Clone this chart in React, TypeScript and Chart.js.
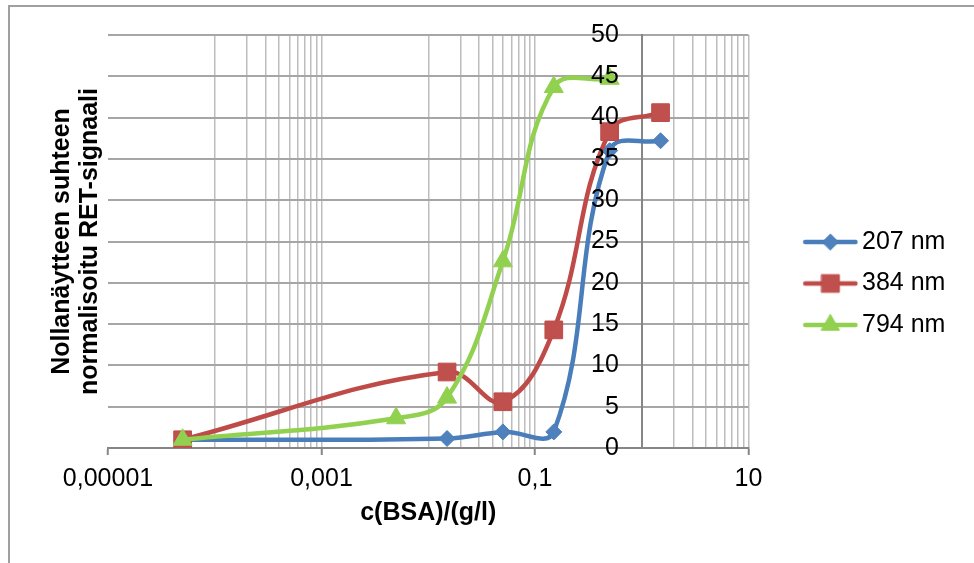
import React, { useEffect, useRef } from 'react';
import { Chart, registerables } from 'chart.js';

Chart.register(...registerables);

// ---- data ----
const seriesLabels = ['207 nm', '384 nm', '794 nm'];
const conc207 = [0.00005, 0.015, 0.05, 0.15, 0.5, 1.5];
const signal207 = [1.0, 1.15, 1.95, 1.95, 36.0, 37.2];
const conc384 = [0.00005, 0.015, 0.05, 0.15, 0.5, 1.5];
const signal384 = [1.0, 9.2, 5.6, 14.3, 38.3, 40.6];
const conc794 = [0.00005, 0.005, 0.015, 0.05, 0.15, 0.5];
const signal794 = [1.0, 3.6, 6.1, 22.6, 43.7, 44.7];

const xMajorTicks = [0.00001, 0.001, 0.1, 10];
const xMajorLabels = ['0,00001', '0,001', '0,1', '10'];
const xMinorTicks = [
  0.0001, 0.0002, 0.0003, 0.0004, 0.0005, 0.0006, 0.0007, 0.0008, 0.0009,
  0.01, 0.02, 0.03, 0.04, 0.05, 0.06, 0.07, 0.08, 0.09,
  1, 2, 3, 4, 5, 6, 7, 8, 9,
];
const yMin = 0;
const yMax = 50;
const yStep = 5;
const yAxisCrossesAt = 1; // value axis crosses the log axis at x = 1
const yLabelAnchorAt = 0.61; // labels sit a little left of the crossing

const xTitle = 'c(BSA)/(g/l)';
const yTitle = ['Nollanäytteen suhteen', 'normalisoitu RET-signaali'];

// ---- styles ----
const FONT = "'Liberation Sans', Arial, sans-serif";
const lineColors = ['#4A7EBB', '#BE4B48', '#92D050'];
const fillColors = ['#4F81BD', '#C0504D', '#92D050'];
const pointStyles = ['rectRot', 'rect', 'triangle'];
const pointRadii = [8, 12.5, 11];

const sameVal = (a: number, b: number) => Math.abs(a - b) / Math.abs(b) < 1e-6;

function toPoints(xs: number[], ys: number[]) {
  return xs.map((x, i) => ({ x, y: ys[i] }));
}

function makeLegendSymbol(style: string, line: string, fill: string, r: number) {
  const W = 102;
  const H = 30;
  const c = document.createElement('canvas');
  c.width = W;
  c.height = H;
  const g = c.getContext('2d')!;
  const cy = H / 2;
  const x0 = 46.75;
  const x1 = 101.75 - 2.5;
  g.strokeStyle = line;
  g.lineWidth = 4.5;
  g.lineCap = 'round';
  g.beginPath();
  g.moveTo(x0 + 2.25, cy);
  g.lineTo(x1, cy);
  g.stroke();
  const cx = (x0 + 101.75) / 2;
  g.fillStyle = fill;
  g.strokeStyle = line;
  g.lineWidth = 1;
  g.beginPath();
  if (style === 'rectRot') {
    g.moveTo(cx - r, cy);
    g.lineTo(cx, cy - r);
    g.lineTo(cx + r, cy);
    g.lineTo(cx, cy + r);
  } else if (style === 'rect') {
    const s = r * Math.SQRT1_2;
    g.rect(cx - s, cy - s, 2 * s, 2 * s);
  } else {
    for (let k = 0; k < 3; k++) {
      const a = (k * 2 * Math.PI) / 3;
      const px = cx + Math.sin(a) * r;
      const py = cy - Math.cos(a) * r;
      if (k === 0) g.moveTo(px, py);
      else g.lineTo(px, py);
    }
  }
  g.closePath();
  g.fill();
  g.stroke();
  return c;
}

export default function App() {
  const ref = useRef<HTMLCanvasElement | null>(null);

  useEffect(() => {
    if (!ref.current) return;
    const dataSets = [
      toPoints(conc207, signal207),
      toPoints(conc384, signal384),
      toPoints(conc794, signal794),
    ];
    const symbols = [0, 1, 2].map((i) =>
      makeLegendSymbol(pointStyles[i], lineColors[i], fillColors[i], pointRadii[i] * (i === 2 ? 0.95 : 1))
    );

    const tickFont = { family: FONT, size: 25 };

    const chart = new Chart(ref.current, {
      type: 'scatter',
      data: {
        datasets: dataSets.map((pts, i) => ({
          label: seriesLabels[i],
          data: pts,
          showLine: true,
          borderColor: lineColors[i],
          backgroundColor: fillColors[i],
          borderWidth: 4.5,
          borderCapStyle: 'round',
          borderJoinStyle: 'round',
          tension: 0.4,
          pointStyle: pointStyles[i],
          pointRadius: pointRadii[i],
          pointBackgroundColor: fillColors[i],
          pointBorderColor: lineColors[i],
          pointBorderWidth: 1,
          order: 2 - i,
        })),
      },
      options: {
        animation: false,
        responsive: false,
        events: [],
        layout: { padding: { top: 35, right: 25.5, bottom: 31, left: 0 } },
        plugins: {
          tooltip: { enabled: false },
          legend: {
            position: 'right',
            align: 'center',
            maxWidth: 200,
            labels: {
              usePointStyle: true,
              pointStyleWidth: 84.5,
              padding: 16.5,
              color: '#000',
              font: { family: FONT, size: 25 },
              sort: (a: any, b: any) => a.datasetIndex - b.datasetIndex,
              generateLabels: (ch: any) => {
                const items = (Chart as any).defaults.plugins.legend.labels.generateLabels(ch);
                return items.map((it: any) => ({
                  ...it,
                  pointStyle: symbols[it.datasetIndex],
                  rotation: 0,
                }));
              },
            },
          },
        },
        scales: {
          x: {
            type: 'logarithmic',
            position: 'bottom',
            min: 0.00001,
            max: 10,
            afterBuildTicks: (scale: any) => {
              const all = [
                ...xMajorTicks.map((v) => ({ value: v, major: true })),
                ...xMinorTicks.map((v) => ({ value: v, major: false })),
              ];
              all.sort((a, b) => a.value - b.value);
              scale.ticks = all;
            },
            afterFit: (scale: any) => {
              scale.height = 84;
            },
            ticks: {
              autoSkip: false,
              maxRotation: 0,
              minRotation: 0,
              padding: 9,
              color: '#000',
              font: tickFont,
              callback: (value: any) => {
                const idx = xMajorTicks.findIndex((v) => sameVal(Number(value), v));
                return idx >= 0 ? xMajorLabels[idx] : '';
              },
            },
            grid: {
              color: (ctx: any) =>
                ctx.tick && sameVal(ctx.tick.value, xMajorTicks[0]) ? 'rgba(0,0,0,0)' : '#BDBDBD',
              lineWidth: 1.5,
              tickColor: (ctx: any) => (ctx.tick && ctx.tick.major ? '#868686' : 'rgba(0,0,0,0)'),
              tickLength: 7,
              tickWidth: 2,
            },
            border: { color: '#868686', width: 2 },
            title: {
              display: true,
              text: xTitle,
              color: '#000',
              font: { family: FONT, size: 25, weight: 'bold' },
              padding: { top: 0, bottom: 4 },
            },
          },
          y: {
            type: 'linear',
            position: { x: yAxisCrossesAt } as any,
            min: yMin,
            max: yMax,
            afterFit: (scale: any) => {
              scale.width = 0;
            },
            ticks: { stepSize: yStep, display: false },
            grid: { color: '#A6A6A6', lineWidth: 2, drawTicks: false },
            border: { color: '#868686', width: 2 },
          },
          yLabels: {
            type: 'linear',
            axis: 'y',
            position: { x: yLabelAnchorAt } as any,
            min: yMin,
            max: yMax,
            afterFit: (scale: any) => {
              scale.width = 0;
            },
            ticks: { stepSize: yStep, color: '#000', z: 1, font: tickFont },
            grid: { display: false },
            border: { display: false },
          },
          yTitleAxis: {
            type: 'linear',
            axis: 'y',
            position: 'left',
            display: true,
            afterFit: (scale: any) => {
              scale.width = 108;
            },
            ticks: { display: false },
            grid: { display: false },
            border: { display: false },
            title: {
              display: true,
              text: yTitle,
              color: '#000',
              font: { family: FONT, size: 25, weight: 'bold', lineHeight: 1.12 },
              padding: { top: 48, bottom: 0 },
            },
          },
        },
      } as any,
    });
    return () => chart.destroy();
  }, []);

  return (
    <div
      style={{
        position: 'fixed',
        left: 0,
        top: 0,
        width: 974,
        height: 563,
        overflow: 'hidden',
        background: '#fff',
      }}
    >
      <div
        style={{
          position: 'absolute',
          left: 8,
          top: 5,
          width: 1000,
          height: 600,
          border: '2px solid #A0A0A0',
          boxSizing: 'border-box',
        }}
      />
      <canvas
        ref={ref}
        width={974}
        height={563}
        style={{ position: 'absolute', left: 0, top: 0, width: 974, height: 563 }}
      />
    </div>
  );
}
